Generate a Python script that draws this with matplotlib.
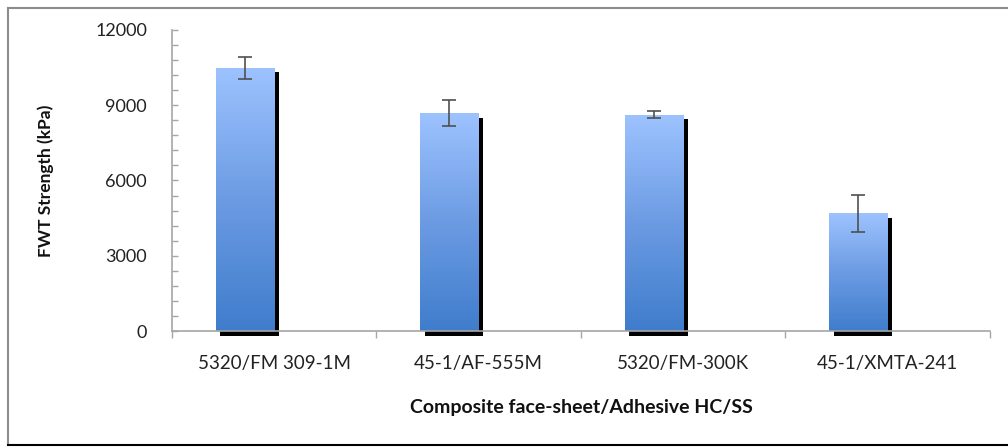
import numpy as np
import matplotlib
matplotlib.use("Agg")
from matplotlib import pyplot as plt
from matplotlib import transforms
from matplotlib.colors import LinearSegmentedColormap
from matplotlib.lines import Line2D

##### data #####
categories = ["5320/FM 309-1M", "45-1/AF-555M", "5320/FM-300K", "45-1/XMTA-241"]
strength = [10490, 8680, 8615, 4690]   # kPa
errors = [430, 510, 140, 730]          # kPa

plt.rcParams['font.family'] = ['Lato', 'DejaVu Sans']

fig = plt.figure(figsize=(10.08, 4.47), dpi=100)
ax = fig.add_axes([0.1706, 0.2595, 0.8115, 0.6734])

x = np.arange(len(categories))
w = 0.2857  # bar width (first of two clustered slots, second one empty)

grad = LinearSegmentedColormap.from_list("bar", ["#3f7dcc", "#6c9be3", "#9dc3ff"])
shift = transforms.ScaledTranslation(4.5 / 100, -4.5 / 100, fig.dpi_scale_trans)

# shadow
ax.bar(x - w, strength, width=w, align='edge', color='black', zorder=1,
       transform=ax.transData + shift, clip_on=False)

# bars with vertical gradient
bars = ax.bar(x - w, strength, width=w, align='edge', color='none', zorder=2)
g = np.linspace(0, 1, 256).reshape(-1, 1)
for b in bars:
    x0, y0 = b.get_x(), b.get_y()
    im = ax.imshow(g, cmap=grad, origin='lower', aspect='auto',
                   extent=[x0, x0 + b.get_width(), y0, y0 + b.get_height()], zorder=2)
    im.set_clip_path(b)

ax.errorbar(x - w / 2, strength, yerr=errors, fmt='none', ecolor='#505050',
            elinewidth=1.2, capsize=5, capthick=1.2, zorder=3)

ax.set_xlim(-0.5, len(categories) - 0.5)
ax.set_ylim(0, 12000)
ax.set_yticks([0, 3000, 6000, 9000, 12000])
ax.set_yticks(np.arange(0, 12001, 600), minor=True)
ax.set_xticks(x)
ax.set_xticklabels(categories)
ax.set_xticks(np.arange(-0.5, len(categories), 1.0), minor=True)

for s in ['top', 'right']:
    ax.spines[s].set_visible(False)
for s in ['left', 'bottom']:
    ax.spines[s].set_color('#a6a6a6')
    ax.spines[s].set_linewidth(1.2)

ax.tick_params(axis='y', which='both', direction='in', length=4.5, width=1,
               color='#a6a6a6', labelsize=13, pad=18, labelcolor='#222222')
ax.tick_params(axis='x', which='major', length=0, labelsize=13.5, pad=17,
               labelcolor='#222222')
ax.tick_params(axis='x', which='minor', direction='out', length=5, width=1,
               color='#a6a6a6')

ax.set_ylabel("FWT Strength (kPa)", fontsize=12.5, fontweight='bold', color='#111111')
ax.yaxis.set_label_coords(-0.1443, 0.5)
ax.set_xlabel("Composite face-sheet/Adhesive HC/SS", fontsize=14, fontweight='bold',
              color='#111111', va='center')
ax.xaxis.set_label_coords(0.5, -0.2525)

# outer chart border
fig.add_artist(Line2D([8 / 1008, 1.0], [1 - 7.5 / 447] * 2, transform=fig.transFigure,
                      color='#8c8c8c', lw=1.5))
fig.add_artist(Line2D([8 / 1008] * 2, [1 - 7.5 / 447, 1 - 445 / 447], transform=fig.transFigure,
                      color='#8c8c8c', lw=1.5))
fig.add_artist(Line2D([8 / 1008, 1.0], [1 - 445 / 447] * 2, transform=fig.transFigure,
                      color='black', lw=1.5))

fig.savefig("out.png", dpi=100)
